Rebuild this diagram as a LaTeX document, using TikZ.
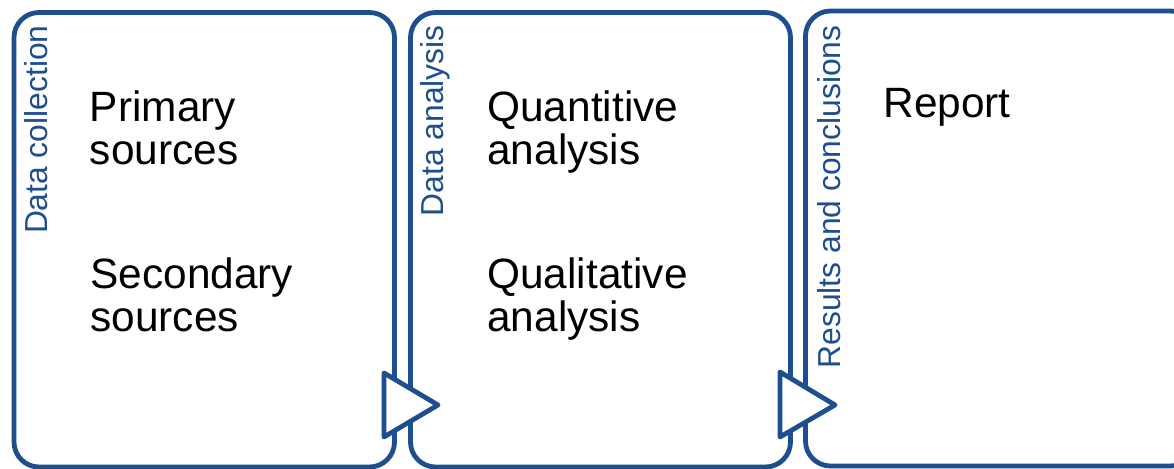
\documentclass[tikz,border=0pt]{standalone}
\usepackage{fontspec}
\setmainfont{Liberation Sans}
\definecolor{stageblue}{RGB}{31,78,143}
\begin{document}
\begin{tikzpicture}[x=0.5pt,y=-0.5pt,
  stagebox/.style={draw=stageblue, line width=2.4pt, rounded corners=12.5pt, fill=white, inner sep=0pt, outer sep=0pt, anchor=north west},
  stagearrow/.style={draw=stageblue, line width=2.4pt, line join=round, fill=white},
  stagelabel/.style={rotate=90, anchor=north east, inner sep=0pt, text=stageblue, font=\fontsize{15.9}{18}\selectfont},
  itemtext/.style={anchor=north west, inner sep=0pt, align=left, text=black, font=\fontsize{21.2}{21.5}\selectfont}]
\useasboundingbox (0,0) rectangle (1174,469);
% stage boxes
\node[stagebox, minimum width=190.25pt, minimum height=227.25pt] (b1) at (14,12.5) {};
\node[stagebox, minimum width=190pt, minimum height=227.25pt] (b2) at (410.5,12.5) {};
\node[stagebox, minimum width=195pt, minimum height=227.5pt] (b3) at (805.5,11) {};
% arrows between stages
\draw[stagearrow] (384,373) -- (438,405) -- (384,437) -- cycle;
\draw[stagearrow] (780,372) -- (835,405) -- (780,437) -- cycle;
% stage titles
\node[stagelabel] (l1) at (24,25) {Data collection};
\node[stagelabel] (l2) at (420,25) {Data analysis};
\node[stagelabel] (l3) at (817,25) {Results and conclusions};
% items
\node[itemtext] (t1) at (89.5,90) {Primary\\sources};
\node[itemtext] (t2) at (90,257) {Secondary\\sources};
\node[itemtext] (t3) at (487,90) {Quantitive\\analysis};
\node[itemtext] (t4) at (487,257) {Qualitative\\analysis};
\node[itemtext] (t5) at (883,88) {Report};
\end{tikzpicture}
\end{document}
